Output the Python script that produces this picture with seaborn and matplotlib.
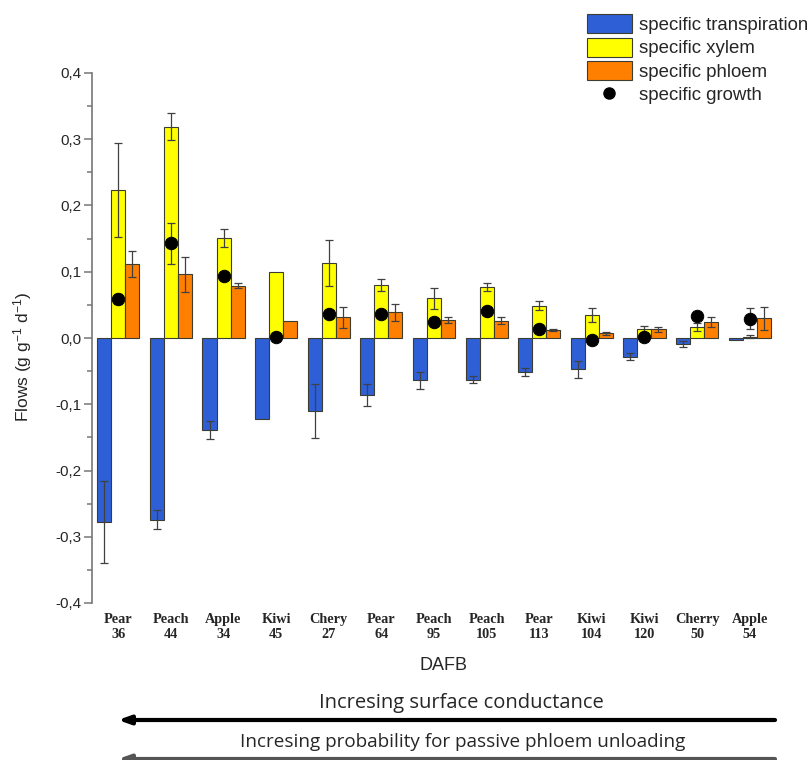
import numpy as np
import pandas as pd
import matplotlib
matplotlib.use("Agg")
import matplotlib.pyplot as plt
import seaborn as sns
from matplotlib.patches import Patch
from matplotlib.lines import Line2D
from matplotlib.ticker import MultipleLocator, FuncFormatter

# Fruit stage labels (species / days after full bloom)
labels = ["Pear\n36", "Peach\n44", "Apple\n34", "Kiwi\n45", "Chery\n27", "Pear\n64",
          "Peach\n95", "Peach\n105", "Pear\n113", "Kiwi\n104", "Kiwi\n120",
          "Cherry\n50", "Apple\n54"]

series = ["specific transpiration", "specific xylem", "specific phloem"]
growth_name = "specific growth"

transpiration = [-0.278, -0.274, -0.139, -0.122, -0.110, -0.086, -0.064, -0.063,
                 -0.051, -0.047, -0.028, -0.009, -0.003]
transpiration_err = [0.062, 0.015, 0.014, 0.0, 0.041, 0.017, 0.013, 0.005,
                     0.006, 0.013, 0.005, 0.0045, 0.0]
xylem = [0.224, 0.319, 0.151, 0.100, 0.113, 0.080, 0.060, 0.077,
         0.049, 0.035, 0.013, 0.017, 0.002]
xylem_err = [0.071, 0.020, 0.014, 0.0, 0.035, 0.009, 0.016, 0.006,
             0.007, 0.011, 0.005, 0.006, 0.002]
phloem = [0.112, 0.096, 0.079, 0.025, 0.031, 0.039, 0.027, 0.026,
          0.012, 0.007, 0.013, 0.024, 0.030]
phloem_err = [0.020, 0.026, 0.004, 0.0, 0.016, 0.013, 0.004, 0.005,
              0.002, 0.002, 0.004, 0.007, 0.0175]
growth = [0.059, 0.143, 0.093, 0.002, 0.036, 0.036, 0.024, 0.041,
          0.013, -0.003, 0.001, 0.033, 0.029]
growth_err = [0.008, 0.031, 0.0, 0.0, 0.0, 0.0, 0.0, 0.0,
              0.0, 0.0, 0.0, 0.0, 0.016]

colors = ["#2E5FD6", "#FFFF00", "#FF7F00"]

values = [transpiration, xylem, phloem]
errors = [transpiration_err, xylem_err, phloem_err]

df = pd.DataFrame({
    "stage": np.tile(labels, 3),
    "series": np.repeat(series, len(labels)),
    "value": np.concatenate(values),
})

sns.set_style("white")
plt.rcParams["font.family"] = ["Liberation Sans", "DejaVu Sans"]
plt.rcParams["mathtext.default"] = "regular"

fig = plt.figure(figsize=(8.1, 7.6), dpi=100)
ax = fig.add_axes([92 / 810, 157 / 760, (776 - 92) / 810, 530 / 760])

sns.barplot(data=df, x="stage", y="value", hue="series", order=labels,
            hue_order=series, palette=colors, saturation=1, width=0.8,
            errorbar=None, edgecolor="#3c3c30", linewidth=0.8, legend=False, ax=ax)

# Error bars centred on the end of every bar
for cont, err in zip(ax.containers, errors):
    xs = np.array([b.get_x() + b.get_width() / 2 for b in cont])
    ys = np.array([b.get_y() + b.get_height() for b in cont])
    e = np.array(err)
    m = e > 0
    ax.errorbar(xs[m], ys[m], yerr=e[m], fmt="none", ecolor="#404040",
                elinewidth=0.9, capsize=3, capthick=0.9, zorder=4)

# Specific growth points at the centre of each group
pos = np.arange(len(labels))
ge = np.array(growth_err)
gm = ge > 0
ax.errorbar(pos[gm], np.array(growth)[gm], yerr=ge[gm], fmt="none",
            ecolor="#404040", elinewidth=0.9, capsize=3, capthick=0.9, zorder=5)
sns.scatterplot(x=pos, y=growth, color="black", s=80, edgecolor="black",
                zorder=6, ax=ax, legend=False)

ax.set_xlim(-0.5, 12.5)
ax.set_ylim(-0.4, 0.4)
ax.yaxis.set_major_locator(MultipleLocator(0.1))
ax.yaxis.set_minor_locator(MultipleLocator(0.05))
ax.yaxis.set_major_formatter(FuncFormatter(
    lambda v, p: f"{v:.1f}".replace(".", ",").replace("-0,0", "0,0")))

for s in ["top", "right", "bottom"]:
    ax.spines[s].set_visible(False)
ax.spines["left"].set_color("#777777")
ax.spines["left"].set_linewidth(1.2)

ax.tick_params(axis="y", which="major", direction="out", length=6, width=1.1,
               color="#777777", labelsize=11, pad=1.5, left=True)
ax.tick_params(axis="y", which="minor", direction="out", length=3.5, width=1.1,
               color="#777777", left=True)
ax.tick_params(axis="x", length=0, pad=7)
for t in ax.get_xticklabels():
    t.set_fontfamily("Liberation Serif")
    t.set_fontweight("bold")
    t.set_fontsize(10.3)
    t.set_linespacing(1.2)

ax.set_ylabel(r"Flows (g g$^{-1}$ d$^{-1}$)", fontsize=12.5)
ax.yaxis.set_label_coords(-0.0845, 0.464)
ax.set_xlabel("DAFB", fontsize=13)
ax.xaxis.set_label_coords(0.514, -0.1025)

handles = [Patch(facecolor=c, edgecolor="#3c3c30", linewidth=0.8) for c in colors]
handles.append(Line2D([], [], linestyle="none", marker="o", color="black",
                      markersize=8))
fig.legend(handles, series + [growth_name], loc="upper left",
           bbox_to_anchor=(587 / 810, 1 - 14 / 760), frameon=False, fontsize=13.4,
           handlelength=2.4, handleheight=1.2, labelspacing=0.2,
           handletextpad=0.4, borderpad=0, borderaxespad=0)

# Annotation arrows below the chart
txt_font = ["Open Sans", "DejaVu Sans"]
fig.text(461 / 810, 1 - 703 / 760, "Incresing surface conductance",
         ha="center", va="center", fontsize=14.5, family=txt_font)
ax.annotate("", xy=(118 / 810, 1 - 720 / 760), xytext=(775 / 810, 1 - 720 / 760),
            xycoords="figure fraction", textcoords="figure fraction",
            arrowprops=dict(arrowstyle="-|>,head_length=0.7,head_width=0.25",
                            lw=3, color="black", shrinkA=0, shrinkB=0),
            annotation_clip=False)
fig.text(463 / 810, 1 - 742 / 760, "Incresing probability for passive phloem unloading",
         ha="center", va="center", fontsize=13.6, family=txt_font)
ax.annotate("", xy=(118 / 810, 1 - 759 / 760), xytext=(775 / 810, 1 - 759 / 760),
            xycoords="figure fraction", textcoords="figure fraction",
            arrowprops=dict(arrowstyle="-|>,head_length=0.7,head_width=0.25",
                            lw=3, color="#555555", shrinkA=0, shrinkB=0),
            annotation_clip=False)

fig.savefig("out.png", dpi=100)
